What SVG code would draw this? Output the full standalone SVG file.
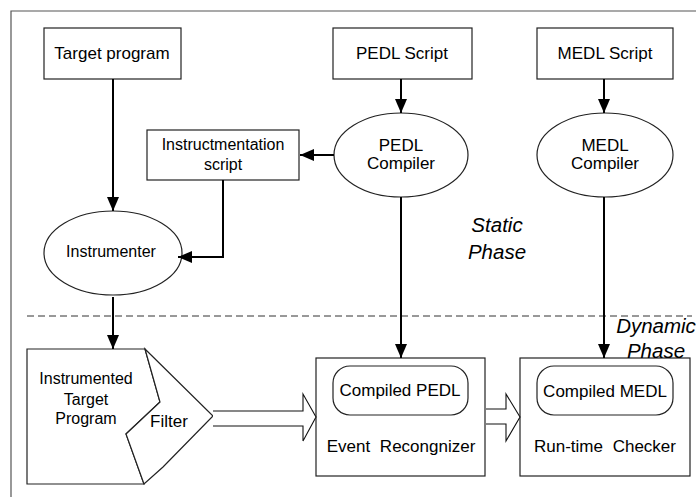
<svg xmlns="http://www.w3.org/2000/svg" width="696" height="497" viewBox="0 0 696 497">
<defs>
<style>
text{font-family:"Liberation Sans",Arial,sans-serif;font-size:17px;fill:#000;text-anchor:middle}
.sm{font-size:16px}
.ph{font-size:20.5px;font-style:italic}
.box{fill:#fff;stroke:#222;stroke-width:1.2}
.conn{fill:none;stroke:#000;stroke-width:2}
.blk{fill:#fff;stroke:#111;stroke-width:1.1}
</style>
<marker id="ah" viewBox="0 0 14 12" refX="14" refY="6" markerWidth="14" markerHeight="12" markerUnits="userSpaceOnUse" orient="auto">
<path d="M0,0 L14,6 L0,12 z" fill="#000"/>
</marker>
</defs>
<rect width="696" height="497" fill="#fff"/>
<path d="M11,497 L11,11 L700,11" fill="none" stroke="#555" stroke-width="1.2"/>
<path d="M27,316 L692,316" fill="none" stroke="#333" stroke-width="1" stroke-dasharray="7,4"/>

<g id="target-program">
<rect class="box" x="44" y="28" width="137" height="51"/>
<text x="112" y="59">Target program</text>
</g>
<g id="pedl-script">
<rect class="box" x="333" y="28" width="139" height="51"/>
<text x="402" y="59">PEDL Script</text>
</g>
<g id="medl-script">
<rect class="box" x="537" y="28" width="136" height="51"/>
<text x="605" y="59">MEDL Script</text>
</g>
<g id="instr-script">
<rect class="box" x="147" y="130" width="152" height="50"/>
<text class="sm" x="223" y="150">Instructmentation</text>
<text class="sm" x="223" y="170">script</text>
</g>
<g id="pedl-compiler">
<ellipse class="box" cx="401" cy="155" rx="67" ry="42"/>
<text x="401" y="151">PEDL</text>
<text x="401" y="169">Compiler</text>
</g>
<g id="medl-compiler">
<ellipse class="box" cx="605" cy="155" rx="68" ry="42"/>
<text x="605" y="151">MEDL</text>
<text x="605" y="169">Compiler</text>
</g>
<g id="instrumenter">
<ellipse class="box" cx="113" cy="253" rx="69" ry="42"/>
<text class="sm" x="111" y="257">Instrumenter</text>
</g>
<g id="instrumented-target">
<path class="box" d="M27,349 L145,349 L160,402 L126,434 L144,484 L27,484 Z"/>
<text class="sm" x="86" y="384">Instrumented</text>
<text class="sm" x="86" y="405">Target</text>
<text class="sm" x="86" y="424">Program</text>
</g>
<g id="filter">
<path class="box" d="M145,349 L213,416 L163,467 L144,484 L126,434 L160,402 Z"/>
<text x="169" y="427">Filter</text>
</g>
<g id="event-recognizer">
<rect class="box" x="316" y="358" width="169" height="118"/>
<rect class="box" x="333" y="366" width="135" height="49" rx="17" ry="17"/>
<text x="400" y="396">Compiled PEDL</text>
<text x="401" y="452" word-spacing="5">Event Recongnizer</text>
</g>
<g id="runtime-checker">
<rect class="box" x="520" y="358" width="170" height="118"/>
<rect class="box" x="537" y="366" width="136" height="49" rx="17" ry="17"/>
<text x="605" y="397">Compiled MEDL</text>
<text x="605" y="452" word-spacing="5">Run-time Checker</text>
</g>
<g id="labels">
<text class="ph" x="497" y="232">Static</text>
<text class="ph" x="497" y="259">Phase</text>
<text class="ph" x="656" y="333">Dynamic</text>
<text class="ph" x="656" y="358">Phase</text>
</g>
<g id="connectors">
<path class="conn" d="M113,79 L113,211" marker-end="url(#ah)"/>
<path class="conn" d="M401,79 L401,113" marker-end="url(#ah)"/>
<path class="conn" d="M604,79 L604,113" marker-end="url(#ah)"/>
<path class="conn" d="M334,155 L300,155" marker-end="url(#ah)"/>
<path class="conn" d="M223,180 L223,257 L178,257" marker-end="url(#ah)"/>
<path class="conn" d="M113,297 L113,349" marker-end="url(#ah)"/>
<path class="conn" d="M401,197 L401,358" marker-end="url(#ah)"/>
<path class="conn" d="M604,197 L604,358" marker-end="url(#ah)"/>
<path class="blk" d="M213,411 L303,411 L303,394 L316,417 L303,441 L303,426 L213,426"/>
<path class="blk" d="M486,409 L506,409 L506,394 L520,417 L506,441 L506,424 L486,424"/>
</g>
</svg>
